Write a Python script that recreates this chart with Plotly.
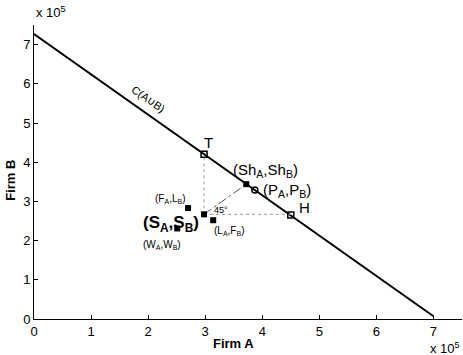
import plotly.graph_objects as go

# frontier C(A∪B)
frontier_x = [0.0, 7.0]
frontier_y = [7.27, 0.07]

# named points (units of 1e5)
T_pt = (2.98, 4.20)
H_pt = (4.50, 2.65)
S_pt = (2.98, 2.67)
Sh_pt = (3.72, 3.44)
P_pt = (3.87, 3.29)
FL_pt = (2.70, 2.83)
LF_pt = (3.14, 2.52)
W_pt = (2.51, 2.31)

x_ticks = [0, 1, 2, 3, 4, 5, 6, 7]
y_ticks = [0, 1, 2, 3, 4, 5, 6, 7]

FONT = "Liberation Sans, Arial, sans-serif"

fig = go.Figure()
fig.add_trace(go.Scatter(x=frontier_x, y=frontier_y, mode="lines",
                         line=dict(color="black", width=2), hoverinfo="skip"))
# dotted guides
fig.add_trace(go.Scatter(x=[S_pt[0], T_pt[0]], y=[S_pt[1], T_pt[1]], mode="lines",
                         line=dict(color="#999999", width=1, dash="dot")))
fig.add_trace(go.Scatter(x=[S_pt[0], H_pt[0]], y=[S_pt[1], S_pt[1]], mode="lines",
                         line=dict(color="#999999", width=1, dash="dot")))
fig.add_trace(go.Scatter(x=[S_pt[0], Sh_pt[0]], y=[S_pt[1], Sh_pt[1]], mode="lines",
                         line=dict(color="#555555", width=1, dash="dashdot")))
# hollow squares
fig.add_trace(go.Scatter(x=[T_pt[0], H_pt[0]], y=[T_pt[1], H_pt[1]], mode="markers",
                         marker=dict(symbol="square-open", size=6, color="black",
                                     line=dict(width=1.5))))
# hollow circle
fig.add_trace(go.Scatter(x=[P_pt[0]], y=[P_pt[1]], mode="markers",
                         marker=dict(symbol="circle-open", size=6, color="black",
                                     line=dict(width=1.5))))
# filled squares
fig.add_trace(go.Scatter(x=[S_pt[0], Sh_pt[0], FL_pt[0], LF_pt[0], W_pt[0]],
                         y=[S_pt[1], Sh_pt[1], FL_pt[1], LF_pt[1], W_pt[1]],
                         mode="markers",
                         marker=dict(symbol="square", size=6, color="black")))

ann = []
def A(x, y, text, size, xref="x", yref="y", **kw):
    d = dict(x=x, y=y, xref=xref, yref=yref, text=text, showarrow=False,
             font=dict(family=FONT, size=size, color="black"))
    d.update(kw)
    ann.append(d)

A(2.0, 5.6, "C(A∪B)", 11, textangle=35)
A(3.05, 4.50, "T", 15, xanchor="center")
A(3.46, 3.80, "(Sh<sub>A</sub>,Sh<sub>B</sub>)", 15, xanchor="left")
A(3.97, 3.27, "(P<sub>A</sub>,P<sub>B</sub>)", 15, xanchor="left")
A(4.60, 2.85, "H", 15, xanchor="left")
A(2.08, 3.05, "(F<sub>A</sub>,L<sub>B</sub>)", 10, xanchor="left")
A(1.88, 2.42, "<b>(S<sub>A</sub>,S<sub>B</sub>)</b>", 17, xanchor="left")
A(1.88, 1.88, "(W<sub>A</sub>,W<sub>B</sub>)", 10, xanchor="left")
A(3.12, 2.25, "(L<sub>A</sub>,F<sub>B</sub>)", 10, xanchor="left")
A(3.12, 2.78, "45°", 9, xanchor="left")

A(0.0, 1.0, "x 10<sup>5</sup>", 13, xref="paper", yref="paper",
  xanchor="left", yanchor="bottom", yshift=3)
A(1.0, 0.0, "x 10<sup>5</sup>", 13, xref="paper", yref="paper",
  xanchor="right", yanchor="top", yshift=-19)
A(0.465, 0.0, "<b>Firm A</b>", 13, xref="paper", yref="paper",
  xanchor="center", yanchor="top", yshift=-15)
A(0.0, 0.47, "<b>Firm B</b>", 13, xref="paper", yref="paper",
  xanchor="center", yanchor="middle", xshift=-23, textangle=-90)

fig.update_layout(
    width=463, height=355,
    margin=dict(l=34, r=1, t=25, b=36),
    plot_bgcolor="white", paper_bgcolor="white",
    showlegend=False,
    font=dict(family=FONT, size=13, color="black"),
    annotations=ann,
)
fig.update_xaxes(range=[0, 7.5], tickvals=x_ticks, ticks="inside", ticklen=4,
                 showline=True, linecolor="black", linewidth=1, showgrid=False,
                 zeroline=False, tickfont=dict(size=13), tickcolor="black")
fig.update_yaxes(range=[0, 7.5], tickvals=y_ticks, ticks="inside", ticklen=4,
                 showline=True, linecolor="black", linewidth=1, showgrid=False,
                 zeroline=False, tickfont=dict(size=13), tickcolor="black")

fig.write_html("out.html", config={"displayModeBar": False},
               post_script="document.body.style.margin='0px';")
